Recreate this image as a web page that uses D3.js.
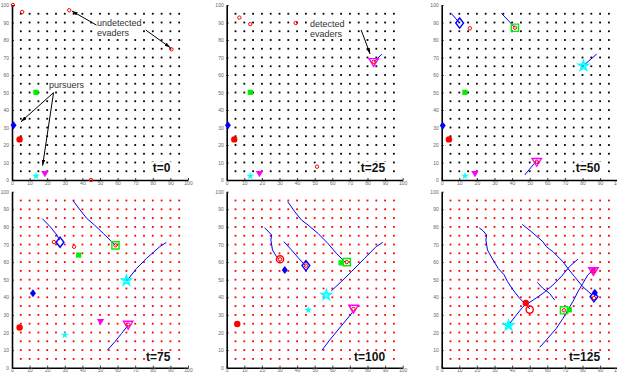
<!DOCTYPE html>
<html>
<head>
<meta charset="utf-8">
<script src="https://cdn.jsdelivr.net/npm/d3@7"></script>
<style>
  html, body { margin: 0; padding: 0; background: #fff; }
  svg { display: block; font-family: Arial, "Liberation Sans", sans-serif; }
</style>
</head>
<body>
<div id="chart"></div>
<script>
// ---- data ----
const timeSteps = [0, 25, 50, 75, 100, 125];
const axisTicks = [0, 10, 20, 30, 40, 50, 60, 70, 80, 90, 100];
const gridSteps = [5, 10, 15, 20, 25, 30, 35, 40, 45, 50, 55, 60, 65, 70, 75, 80, 85, 90, 95];

// small red circles = evaders (one list per time step)
const evaders = [
  [[0.5, 100], [5.8, 96], [32.5, 97], [90.6, 74.7], [44.9, 0]],
  [[7.2, 92.8], [13.4, 89.1], [39.2, 89.7], [51.3, 7.6], [83.5, 67.5]],
  [[16, 86.7], [41.6, 87], [54, 10.4]],
  [[23.8, 71.4], [35.3, 68.7], [58.8, 69.5], [66, 24.5]],
  [[30.3, 61.6], [45, 58], [68.2, 60], [72, 33.4]],
  [[86.5, 39.6], [69.5, 32.6], [86.2, 54.8]]
];

// filled markers, one position per time step (null = hidden under open marker)
const redDot = [[4.3, 23.2], [4.3, 23.2], [4.1, 23.2], [4.3, 22.8], [6, 24.8], [47.8, 36.8]];
const blueDot = [[0.9, 31.3], [0.7, 31.3], [0.6, 31.1], [11.9, 42.3], [33, 55.5], [87, 42.6]];
const greenDot = [[13.6, 50.1], [13.4, 50.1], [13.2, 50.1], [37.9, 64], [65, 59.6], [72.5, 32.9]];
const cyanDot = [[13.6, 2.3], [13.4, 2.3], [13.2, 2.3], [30, 18.6], [46.3, 32.8], [37.8, 24]];
const magentaDot = [[18.7, 3.6], [18.6, 3.6], [18.9, 3.6], [50.3, 26.2], null, [86.2, 55.5]];

// open markers (detected / tracking), null = not shown
const circleOpen = [null, null, null, null, [30.3, 61.6], [50, 33]];
const diamondOpen = [null, null, [10.2, 89.7], [27.3, 71.3], [45, 58], [86.5, 40.3]];
const squareOpen = [null, null, [41.6, 87], [58.8, 69.5], [68.2, 60], [69.5, 32.6]];
const starOpen = [null, null, [80.5, 65.2], [65, 49.5], [56.6, 41.3], [38, 24]];
const triangleOpen = [null, [83.5, 67.5], [54, 10.4], [66, 24.5], [72, 33.6], [86.2, 55]];

// blue trails
const circleTrack = [null, null, null, null,
  [[21.5, 79.5], [23.5, 77.6], [25.5, 75.4], [25.1, 72.5], [26, 66.9], [28.3, 63.1], [29.6, 61.7]],
  [[21.3, 79.5], [23.5, 77.8], [25.5, 75.4], [25.1, 72.5], [26, 66.9], [29.2, 61.2], [32.1, 56.4], [35.5, 52.7],
   [37.4, 48.9], [40.6, 44.1], [44.3, 39.4], [48.1, 35.6], [50, 33.3]]];
const diamondTrack = [null, null,
  [[5.7, 94.9], [10, 89.9]],
  [[17.2, 84.7], [21.7, 80.1], [25.5, 75.4], [27, 72.5]],
  [[32.5, 71.6], [36.8, 66.9], [40.6, 62.5], [44.7, 58]],
  [[45.8, 81.4], [50.9, 77.3], [57.5, 71.6], [59.4, 68.8], [63.2, 65.9], [68.9, 60.2], [71.7, 56.4],
   [75.5, 51.7], [80.2, 46], [85.5, 41.3]]];
const squareTrack = [null, null,
  [[34, 95.2], [41.5, 87.2]],
  [[34.7, 94.9], [38.7, 89.6], [42.5, 84.8], [46.8, 81.1], [51.9, 76.3], [58.7, 69.5]],
  [[34.7, 94.3], [38.7, 88.6], [42.5, 83.9], [46.2, 81.1], [51.9, 76.3], [57.5, 70.6], [62.3, 65], [67.5, 59.8]],
  null];
const starTrack = [null, null,
  [[88.1, 72], [80.2, 65.1]],
  [[87.7, 71.2], [84, 68.8], [76.4, 62.1], [70.8, 56.4], [65.1, 49.2]],
  [[88.7, 71.2], [84.9, 68.8], [78.3, 62.1], [70.8, 54.5], [65.1, 48.9], [59.4, 43.6]],
  [[77.4, 61.7], [72.6, 57.4], [67.9, 51.7], [63.2, 47], [57.5, 42.2], [51.9, 38.4], [46.2, 34.7],
   [42.1, 29.5], [38.7, 25.2]]];
const triangleTrack = [null,
  [[88.1, 71.8], [83.5, 67.5]],
  [[47.2, 2.9], [53.8, 10.9]],
  [[54.2, 10], [58.5, 14.8], [62.3, 19.5], [66, 24.2]],
  [[54.2, 10], [58.5, 15.7], [63.2, 21.4], [67.9, 27.1], [71.7, 31.8]],
  [[55.7, 11.6], [59.4, 15.7], [65.1, 22.3], [68.9, 28], [71.7, 32.8], [74.5, 37.5], [77.4, 43.2],
   [80.2, 47.9], [83, 52.7], [84.9, 54.5]]];
const extraTrack = [null, null, null, null, null,
  [[54.3, 48.5], [57.5, 45.1], [61.3, 42.2], [64.2, 38.4]]];

// ---- layout ----
const width = 617;
const height = 376;
const panelLeft = [12, 226.7, 441.7];
const panelRows = [{top: 5, bottom: 180}, {top: 191.7, bottom: 367.7}];
const panelW = 176;
const gridColor = ['#000000', '#ff0000'];

const agents = [
  {kind: 'circle', color: '#ff0000', dot: redDot, open: circleOpen, track: circleTrack},
  {kind: 'diamond', color: '#0000ff', dot: blueDot, open: diamondOpen, track: diamondTrack},
  {kind: 'square', color: '#00ee00', dot: greenDot, open: squareOpen, track: squareTrack},
  {kind: 'star', color: '#00ffff', dot: cyanDot, open: starOpen, track: starTrack},
  {kind: 'triangle', color: '#ff00ff', dot: magentaDot, open: triangleOpen, track: triangleTrack}
];

// marker shapes, r ~ half width in px
const shapes = {
  circle: r => d3.symbol(d3.symbolCircle, Math.PI * r * r)(),
  square: r => d3.symbol(d3.symbolSquare, 4 * r * r)(),
  diamond: r => `M0,${-r * 1.3}L${r},0L0,${r * 1.3}L${-r},0Z`,
  star: r => d3.symbol(d3.symbolStar, r * r / 0.8908)(),
  triangle: r => `M${-r},${-r * 0.7}L${r},${-r * 0.7}L0,${r * 0.95}Z`
};
const dotSize = {circle: 3.2, square: 2.6, diamond: 3, star: 4, triangle: 3.7};
const openSize = {circle: 3.6, square: 3.6, diamond: 3.9, star: 5.3, triangle: 4.7};

// annotation texts (panel index, lines, anchor in data units, arrows)
const annotations = [
  {panel: 0, lines: ['undetected', 'evaders'], at: [48.3, 88.2],
    arrows: [[[48, 88.5], [34, 96.6]], [[76, 85.7], [90, 75.6]]]},
  {panel: 0, lines: ['pursuers'], at: [21, 52.3],
    arrows: [[[23.6, 49.9], [5.1, 33.3]], [[23.6, 49.9], [17.4, 8.2]]]},
  {panel: 1, lines: ['detected', 'evaders'], at: [47.3, 87.6],
    arrows: [[[76.4, 85.7], [81.5, 72]]]}
];

const svg = d3.select('#chart')
    .append('svg')
    .attr('width', width)
    .attr('height', height);

svg.append('rect').attr('width', width).attr('height', height).attr('fill', '#fff');

const defs = svg.append('defs');
defs.append('marker')
    .attr('id', 'arrow')
    .attr('markerUnits', 'userSpaceOnUse')
    .attr('viewBox', '0 0 10 6')
    .attr('refX', 10)
    .attr('refY', 3)
    .attr('markerWidth', 6)
    .attr('markerHeight', 4)
    .attr('orient', 'auto')
    .append('path')
    .attr('d', 'M0,0L10,3L0,6Z')
    .attr('fill', '#000');

// puts a white box behind a text node
function backBox(g, textSel, pad) {
  const b = textSel.node().getBBox();
  g.insert('rect', () => textSel.node())
      .attr('x', b.x - pad)
      .attr('y', b.y + 1)
      .attr('width', b.width + pad * 2)
      .attr('height', b.height - 1)
      .attr('fill', '#fff');
}

timeSteps.forEach((t, i) => {
  const col = i % 3;
  const row = Math.floor(i / 3);
  const x = d3.scaleLinear().domain([0, 100]).range([panelLeft[col], panelLeft[col] + panelW]);
  const y = d3.scaleLinear().domain([0, 100]).range([panelRows[row].bottom, panelRows[row].top]);
  const g = svg.append('g').attr('class', 'panel');

  // grid dots
  const cells = d3.cross(gridSteps, gridSteps);
  g.append('g')
      .selectAll('rect')
      .data(cells)
      .join('rect')
      .attr('x', d => x(d[0]) - 0.9)
      .attr('y', d => y(d[1]) - 0.9)
      .attr('width', 1.8)
      .attr('height', 1.8)
      .attr('fill', gridColor[row]);

  // axes
  const xAxis = g.append('g')
      .attr('transform', `translate(0,${y(0)})`)
      .call(d3.axisBottom(x).tickValues(axisTicks).tickSize(-2).tickSizeOuter(0).tickPadding(1));
  const yAxis = g.append('g')
      .attr('transform', `translate(${x(0)},0)`)
      .call(d3.axisLeft(y).tickValues(axisTicks).tickSize(-2).tickSizeOuter(0).tickPadding(3));
  [xAxis, yAxis].forEach(a => {
    a.select('.domain').attr('stroke', '#000').attr('stroke-width', 1.6);
    a.selectAll('.tick line').attr('stroke', '#000').attr('stroke-width', 0.8);
    a.selectAll('.tick text').attr('fill', '#666').style('font-size', '5px')
        .style('font-family', 'Arial, "Liberation Sans", sans-serif');
  });

  // blue trails
  const line = d3.line().x(d => x(d[0])).y(d => y(d[1]));
  const tracks = agents.map(a => a.track[i]).concat([extraTrack[i]]).filter(Boolean);
  g.append('g')
      .selectAll('path')
      .data(tracks)
      .join('path')
      .attr('d', line)
      .attr('fill', 'none')
      .attr('stroke', '#0000ff')
      .attr('stroke-width', 1);

  // filled markers
  g.append('g')
      .selectAll('path')
      .data(agents.filter(a => a.dot[i]))
      .join('path')
      .attr('transform', a => `translate(${x(a.dot[i][0])},${y(a.dot[i][1])})`)
      .attr('d', a => shapes[a.kind](dotSize[a.kind]))
      .attr('fill', a => a.color);

  // open markers
  g.append('g')
      .selectAll('path')
      .data(agents.filter(a => a.open[i]))
      .join('path')
      .attr('transform', a => `translate(${x(a.open[i][0])},${y(a.open[i][1])})`)
      .attr('d', a => shapes[a.kind](openSize[a.kind]))
      .attr('fill', a => a.kind === 'star' ? a.color : 'none')
      .attr('fill-opacity', a => a.kind === 'star' ? 0.6 : 0)
      .attr('stroke', a => a.color)
      .attr('stroke-width', 1.4);

  // evaders
  g.append('g')
      .selectAll('circle')
      .data(evaders[i])
      .join('circle')
      .attr('cx', d => x(d[0]))
      .attr('cy', d => y(d[1]))
      .attr('r', 1.7)
      .attr('fill', 'none')
      .attr('stroke', '#ff0000')
      .attr('stroke-width', 1);

  // time label
  const lbl = g.append('text')
      .attr('x', x(90))
      .attr('y', y(row === 0 ? 4.6 : 3.8))
      .attr('text-anchor', 'end')
      .attr('fill', '#111')
      .style('font-size', '12px')
      .style('font-weight', 'bold')
      .text(`t=${t}`);
  backBox(g, lbl, 1);

  // annotations for this panel
  annotations.filter(a => a.panel === i).forEach(a => {
    const txt = g.append('text')
        .attr('x', x(a.at[0]))
        .attr('y', y(a.at[1]))
        .attr('fill', '#333')
        .style('font-size', '9px');
    a.lines.forEach((s, k) => {
      txt.append('tspan').attr('x', x(a.at[0])).attr('dy', k === 0 ? 0 : 10).text(s);
    });
    backBox(g, txt, 0.5);
    a.arrows.forEach(ar => {
      g.append('line')
          .attr('x1', x(ar[0][0])).attr('y1', y(ar[0][1]))
          .attr('x2', x(ar[1][0])).attr('y2', y(ar[1][1]))
          .attr('stroke', '#000')
          .attr('stroke-width', 1)
          .attr('marker-end', 'url(#arrow)');
    });
  });
});
</script>
</body>
</html>
